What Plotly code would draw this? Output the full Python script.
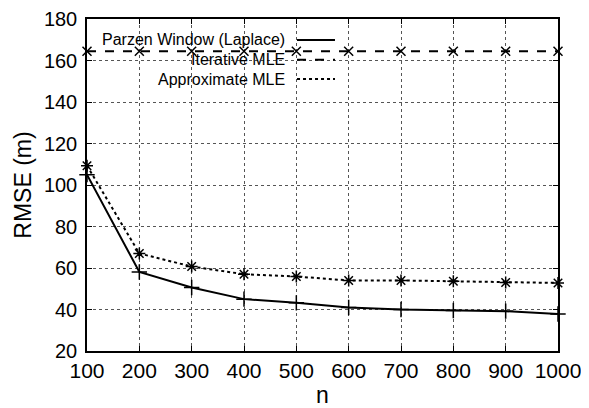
import plotly.graph_objects as go

n_values = [100, 200, 300, 400, 500, 600, 700, 800, 900, 1000]
parzen_laplace = [105.0, 58.1, 50.6, 45.0, 43.2, 41.0, 40.0, 39.5, 39.2, 37.8]
iterative_mle = [164.5, 164.5, 164.5, 164.5, 164.5, 164.5, 164.5, 164.5, 164.5, 164.5]
approximate_mle = [109.3, 67.0, 60.7, 57.0, 55.9, 54.0, 54.0, 53.6, 53.0, 52.8]

series_names = ["Parzen Window (Laplace)", "Iterative MLE", "Approximate MLE"]
x_ticks = [100, 200, 300, 400, 500, 600, 700, 800, 900, 1000]
y_ticks = [20, 40, 60, 80, 100, 120, 140, 160, 180]

FONT = "Liberation Sans, Arial, Helvetica, sans-serif"

fig = go.Figure()
styles = [
    (parzen_laplace, "solid", "cross-thin-open", 11),
    (iterative_mle, "dash", "x-thin-open", 9),
    (approximate_mle, "dot", "asterisk-open", 10),
]
for name, (vals, dash, sym, sz) in zip(series_names, styles):
    fig.add_trace(go.Scatter(
        x=n_values, y=vals, name=name, mode="lines+markers",
        line=dict(color="black", width=2, dash=dash),
        marker=dict(symbol=sym, size=sz, color="black", line=dict(color="black", width=1.5)),
        showlegend=False, cliponaxis=False,
    ))

# custom legend (text right-aligned, sample line on the right)
leg_y = [0.937, 0.877, 0.819]
dashes = ["solid", "dash", "dot"]
for name, yy, d in zip(series_names, leg_y, dashes):
    fig.add_annotation(x=0.4246, y=yy, xref="paper", yref="paper", text=name,
                       showarrow=False, xanchor="right", yanchor="middle",
                       font=dict(family=FONT, size=16, color="black"))
    fig.add_shape(type="line", xref="paper", yref="paper", x0=0.4459, x1=0.5265,
                  y0=yy, y1=yy, line=dict(color="black", width=2, dash=d))

axis_common = dict(
    showline=True, linecolor="black", linewidth=1.5, mirror="allticks",
    ticks="inside", ticklen=5, tickcolor="black", tickwidth=1,
    showgrid=True, gridcolor="#555", gridwidth=1, griddash="dot",
    zeroline=False, automargin=False,
)
fig.update_xaxes(range=[100, 1000], tickvals=x_ticks,
                 tickfont=dict(family=FONT, size=21, color="black"),
                 title=dict(text="n", font=dict(family=FONT, size=23, color="black"), standoff=10),
                 **axis_common)
fig.update_yaxes(range=[20, 180], tickvals=y_ticks, ticklabelstandoff=4,
                 tickfont=dict(family=FONT, size=20, color="black"),
                 title=dict(text="RMSE (m)", font=dict(family=FONT, size=23, color="black"), standoff=6),
                 **axis_common)

# page body has an 8px margin, so the figure is shifted by 8px; compensate
fig.update_layout(
    width=581, height=400,
    margin=dict(l=79, r=31, t=11, b=57),
    plot_bgcolor="white", paper_bgcolor="white",
    font=dict(family=FONT, color="black"),
)
fig.write_html("out.html")
